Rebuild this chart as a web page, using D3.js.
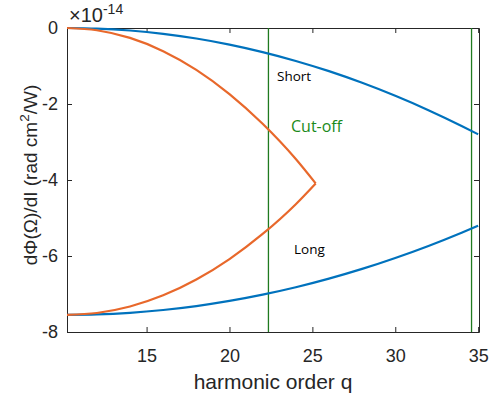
<!DOCTYPE html>
<html>
<head>
<meta charset="utf-8">
<script src="https://d3js.org/d3.v7.min.js"></script>
<style>
  body { margin: 0; background: #fff; }
  svg { font-family: "Liberation Sans", Arial, sans-serif; }
  .axis path, .axis line { stroke: #262626; }
  .axis text { fill: #262626; font-size: 18px; }
</style>
</head>
<body>
<svg id="chart" width="490" height="397"></svg>
<script>
  // données (unité : 1e-14 rad cm^2/W)
  const qShort = [10.2, 12, 14, 16, 18, 20, 22, 24, 26, 28, 30, 32, 34, 35];
  const shortVals = [0, -0.015, -0.066, -0.153, -0.277, -0.437, -0.634, -0.867, -1.136, -1.442, -1.784, -2.162, -2.577, -2.798];
  const longVals = [-7.55, -7.538, -7.495, -7.421, -7.318, -7.183, -7.018, -6.823, -6.596, -6.340, -6.052, -5.735, -5.386, -5.201];

  const qOrange = [10.2, 12, 14, 16, 18, 20, 22, 24, 25.2];
  const orangeUpper = [0, -0.059, -0.261, -0.609, -1.101, -1.738, -2.520, -3.447, -4.09];
  const orangeLower = [-7.55, -7.500, -7.329, -7.035, -6.619, -6.081, -5.420, -4.636, -4.09];

  const cutoffs = [22.35, 34.6];
  const xTicks = [15, 20, 25, 30, 35];
  const yTicks = [0, -2, -4, -6, -8];

  const margin = { top: 28, right: 11, bottom: 65, left: 67 },
        width = 490 - margin.left - margin.right,
        height = 397 - margin.top - margin.bottom;

  const svg = d3.select("#chart");
  const g = svg.append("g").attr("transform", `translate(${margin.left},${margin.top})`);

  const x = d3.scaleLinear().domain([10.2, 35.05]).range([0, width]);
  const y = d3.scaleLinear().domain([-8, 0]).range([height, 0]);

  // axes (ticks vers l'intérieur, boîte complète)
  g.append("g").attr("class", "axis")
    .attr("transform", `translate(0,${height})`)
    .call(d3.axisBottom(x).tickValues(xTicks).tickSize(-5).tickPadding(17).tickSizeOuter(0));
  g.append("g").attr("class", "axis")
    .call(d3.axisTop(x).tickValues(xTicks).tickSize(-5).tickSizeOuter(0))
    .call(a => a.selectAll("text").remove());
  // signe moins court (trait d'union) comme dans l'original
  g.append("g").attr("class", "axis")
    .call(d3.axisLeft(y).tickValues(yTicks).tickSize(-5).tickPadding(9).tickSizeOuter(0)
      .tickFormat(d => String(d)));
  g.append("g").attr("class", "axis")
    .attr("transform", `translate(${width},0)`)
    .call(d3.axisRight(y).tickValues(yTicks).tickSize(-5).tickSizeOuter(0))
    .call(a => a.selectAll("text").remove());

  // lignes verticales de coupure
  g.selectAll("line.cut")
    .data(cutoffs)
    .enter().append("line")
    .attr("class", "cut")
    .attr("x1", d => x(d)).attr("x2", d => x(d))
    .attr("y1", 0).attr("y2", height)
    .attr("stroke", "#1f7a1f")
    .attr("stroke-width", 1.3);

  const line = d3.line()
    .x(d => x(d[0]))
    .y(d => y(d[1]))
    .curve(d3.curveMonotoneX);

  const blue = "#0072BD", orange = "#E8682B";
  const series = [
    { q: qShort, v: shortVals, c: blue },
    { q: qShort, v: longVals, c: blue },
    { q: qOrange, v: orangeUpper, c: orange },
    { q: qOrange, v: orangeLower, c: orange }
  ];
  g.selectAll("path.line")
    .data(series)
    .enter().append("path")
    .attr("class", "line")
    .attr("d", s => line(s.q.map((q, i) => [q, s.v[i]])))
    .attr("fill", "none")
    .attr("stroke", s => s.c)
    .attr("stroke-width", 2.2);

  // annotations
  const annFont = "'Open Sans', sans-serif";
  g.append("text").attr("x", x(22.87)).attr("y", y(-1.395))
    .attr("font-family", annFont).attr("font-size", 13.5).attr("fill", "#000").text("Short");
  g.append("text").attr("x", x(23.71)).attr("y", y(-2.737))
    .attr("font-family", annFont).attr("font-size", 16).attr("fill", "#1a8a1a").text("Cut-off");
  g.append("text").attr("x", x(23.89)).attr("y", y(-5.947))
    .attr("font-family", annFont).attr("font-size", 13.5).attr("fill", "#000").text("Long");

  // facteur d'échelle
  const mult = svg.append("text").attr("x", 69).attr("y", 22)
    .attr("fill", "#262626").attr("font-size", 20);
  mult.append("tspan").text("×10");
  mult.append("tspan").attr("font-size", 14).attr("dy", -8).text("-14");

  // titres des axes
  svg.append("text")
    .attr("x", margin.left + width / 2).attr("y", 389)
    .attr("text-anchor", "middle").attr("font-size", 21).attr("fill", "#262626")
    .text("harmonic order q");

  const yl = svg.append("text")
    .attr("transform", `translate(37,${margin.top + height / 2 - 5}) rotate(-90)`)
    .attr("text-anchor", "middle").attr("font-size", 19).attr("fill", "#262626");
  yl.append("tspan").text("dΦ(Ω)/dI (rad cm");
  yl.append("tspan").attr("font-size", 13.5).attr("dy", -8).text("2");
  yl.append("tspan").attr("dy", 8).text("/W)");
</script>
</body>
</html>
